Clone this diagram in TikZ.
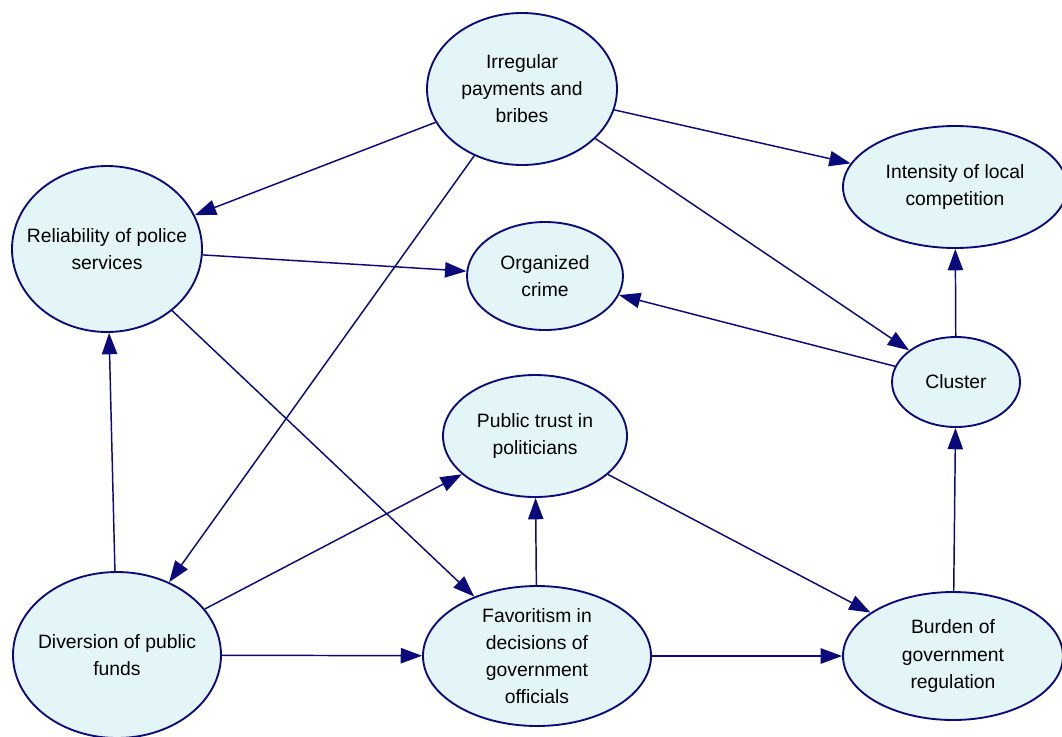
\documentclass[tikz,border=0pt]{standalone}
\usepackage{fontspec}
\setmainfont{Liberation Sans}
\usetikzlibrary{shapes.geometric,arrows.meta}
\definecolor{navyline}{RGB}{10,10,122}
\definecolor{bubblefill}{RGB}{228,245,247}
\begin{document}
\begin{tikzpicture}[x=0.75pt,y=-0.75pt,
  bubble/.style n args={3}{ellipse,draw=navyline,line width=1.4pt,fill=bubblefill,
    inner sep=0pt,minimum width=#1,minimum height=#2,
    label={[align=center,font=\fontsize{14.5pt}{20.3pt}\selectfont,text=black]center:#3}},
  link/.style={draw=navyline,line width=1.1pt,
    -{Triangle[length=16pt,width=11.5pt]}}]
\useasboundingbox (0,0) rectangle (1062,736);

% factors drawn as ellipses
\node[bubble={142.5pt}{114pt}{Irregular\\payments and\\bribes}] (irr) at (522,89) {};
\node[bubble={168pt}{91.5pt}{Intensity of local\\competition}] (int) at (955,187) {};
\node[bubble={142.5pt}{124.5pt}{Reliability of police\\services}] (rel) at (107,249) {};
\node[bubble={117pt}{81pt}{Organized\\crime}] (org) at (545,276) {};
\node[bubble={96pt}{67.5pt}{Cluster}] (clu) at (956,382) {};
\node[bubble={138pt}{91.5pt}{Public trust in\\politicians}] (pub) at (535,436) {};
\node[bubble={156pt}{124.5pt}{Diversion of public\\funds}] (div) at (117,655) {};
\node[bubble={171pt}{105pt}{Favoritism in\\decisions of\\government\\officials}] (fav) at (537,656) {};
\node[bubble={165pt}{96pt}{Burden of\\government\\regulation}] (bur) at (953,656) {};

% causal links
\draw[link] (irr) -- (rel);
\draw[link] (irr) -- (int);
\draw[link] (irr) -- (clu);
\draw[link] (irr) -- (div);
\draw[link] (rel) -- (org);
\draw[link] (rel) -- (fav);
\draw[link] (clu) -- (org);
\draw[link] (clu) -- (int);
\draw[link] (bur) -- (clu);
\draw[link] (div) -- (rel);
\draw[link] (div) -- (pub);
\draw[link] (div) -- (fav);
\draw[link] (fav) -- (pub);
\draw[link] (fav) -- (bur);
\draw[link] (pub) -- (bur);
\end{tikzpicture}
\end{document}
